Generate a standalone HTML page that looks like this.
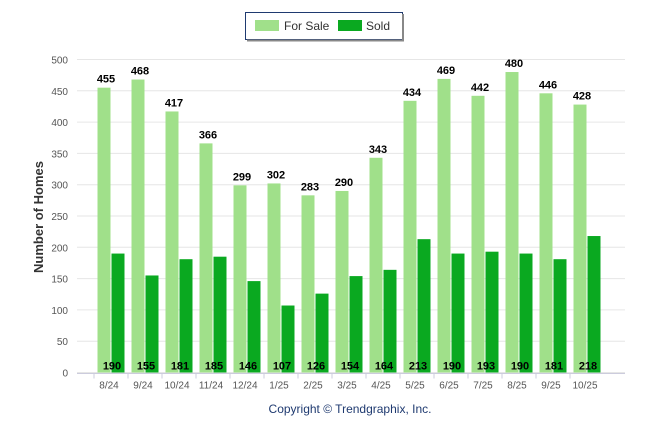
<!DOCTYPE html>
<html><head><meta charset="utf-8"><style>
body{margin:0;background:#fff;width:646px;height:434px;overflow:hidden;font-family:"Liberation Sans",sans-serif}
</style></head><body>
<svg width="646" height="434" id="svg" style="font-family:'Liberation Sans',sans-serif">
<g>
<rect x="245.5" y="12.5" width="157" height="27" fill="#fff" stroke="#1f3a70" stroke-width="1"/>
<line x1="403" y1="14" x2="403" y2="41" stroke="#888" stroke-width="2"/>
<line x1="247" y1="40.5" x2="404" y2="40.5" stroke="#888" stroke-width="2"/>
<rect x="255" y="20" width="24" height="11" fill="#a0e08a"/>
<text x="284" y="30" font-size="12" fill="#333">For Sale</text>
<rect x="338" y="20" width="24" height="11" fill="#0aa920"/>
<text x="366" y="30" font-size="12" fill="#333">Sold</text>
</g>
<text transform="translate(43,217) rotate(-90)" text-anchor="middle" font-size="13" font-weight="bold" fill="#333">Number of Homes</text>
<text x="350" y="413" text-anchor="middle" font-size="12" fill="#1f3a70">Copyright © Trendgraphix, Inc.</text>
<g id="grid"></g><g id="bars"></g><g id="labels"></g>
</svg>
<script>
const categories=["8/24","9/24","10/24","11/24","12/24","1/25","2/25","3/25","4/25","5/25","6/25","7/25","8/25","9/25","10/25"];
const forSale=[455,468,417,366,299,302,283,290,343,434,469,442,480,446,428];
const sold=[190,155,181,185,146,107,126,154,164,213,190,193,190,181,218];
const yTicks=[0,50,100,150,200,250,300,350,400,450,500];
const NS="http://www.w3.org/2000/svg";
const y0=372.5,yScale=313/500,left=77,right=625,step=34,c0=111;
const Y=v=>y0-v*yScale, X=i=>c0+i*step;
function mk(t,a,p){const e=document.createElementNS(NS,t);for(const k in a)e.setAttribute(k,a[k]);p.appendChild(e);return e;}
const grid=document.getElementById('grid'),bars=document.getElementById('bars'),labels=document.getElementById('labels');
yTicks.forEach(v=>{
 const l=mk('line',{x1:left,x2:right,y1:Y(v),y2:Y(v),stroke:'#e6e6e6'},grid);
 
 
 const t=mk('text',{x:68,y:Y(v)+4,'text-anchor':'end','font-size':'10',fill:'#555'},grid);
 t.textContent=v;
 
 
});
mk('line',{x1:left,x2:right,y1:y0+1,y2:y0+1,stroke:'#ccd'},grid);
categories.forEach((c,i)=>{
 const x=X(i);
 const tk=mk('line',{x1:x-17,x2:x-17,y1:y0+1,y2:y0+6,stroke:'#ccd'},grid);
 const b1=mk('rect',{x:x-13.5,y:Y(forSale[i]),width:13,height:forSale[i]*yScale,fill:'#a0e08a'},bars);
 
 
 const b2=mk('rect',{x:x+0.5,y:Y(sold[i]),width:13,height:sold[i]*yScale,fill:'#0aa920'},bars);
 
 
 const t1=mk('text',{x:x-5,y:Y(forSale[i])-5,'text-anchor':'middle','font-size':'11','font-weight':'bold',fill:'#000'},labels);
 t1.textContent=forSale[i];
 
 
 const t2=mk('text',{x:x+1,y:y0-3,'text-anchor':'middle','font-size':'11','font-weight':'bold',fill:'#000'},labels);
 t2.textContent=sold[i];
 
 
 const cl=mk('text',{x:x-2,y:y0+16,'text-anchor':'middle','font-size':'10',fill:'#555'},labels);
 cl.textContent=c;
 
 
});
</script>
</body></html>
